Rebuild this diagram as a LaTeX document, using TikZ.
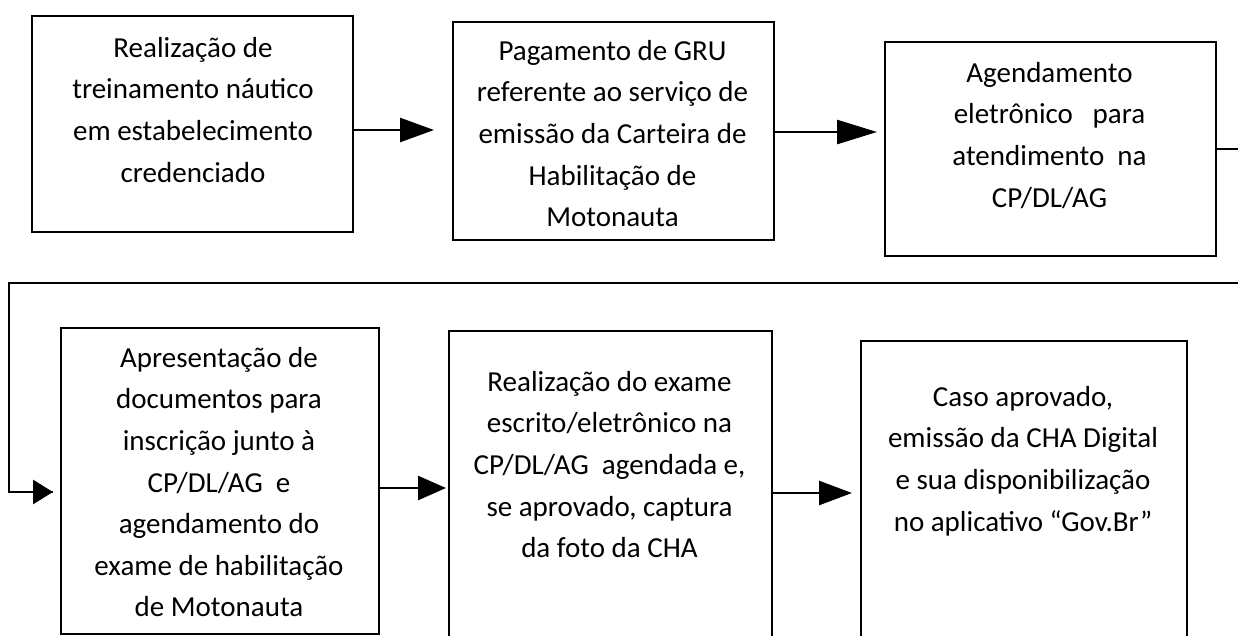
\documentclass[tikz,border=0pt]{standalone}
\usepackage{fontspec}
\setmainfont{Carlito}
\usetikzlibrary{arrows.meta,calc}
\begin{document}
\begin{tikzpicture}[x=1pt,y=-1pt,
  box/.style={draw, line width=1.8pt, inner sep=0pt, anchor=north west},
  txt/.style={align=center, inner sep=0pt, anchor=north, font=\fontsize{29}{41.6}\selectfont},
  conn/.style={line width=2.6pt},
  tip/.style={-{Triangle[length=#1,width=24pt]}}]
\useasboundingbox (0,0) rectangle (1238,635);
\fill[white] (0,0) rectangle (1238,635);
\clip (0,0) rectangle (1238,635);
% boxes
\node[box, minimum width=321pt, minimum height=216pt] (b1) at (31,15) {};
\node[box, minimum width=321pt, minimum height=218pt] (b2) at (452,21) {};
\node[box, minimum width=331pt, minimum height=214pt] (b3) at (884,41) {};
\node[box, minimum width=318pt, minimum height=306pt] (b4) at (60,327) {};
\node[box, minimum width=323pt, minimum height=330pt] (b5) at (448,330) {};
\node[box, minimum width=326pt, minimum height=320pt] (b6) at (860,340) {};
% texts
\node[txt] (t1) at (193,28) {\strut Realização de\\treinamento náutico\\em estabelecimento\\credenciado};
\node[txt] (t2) at (612.5,31) {\strut Pagamento de GRU\\referente ao serviço de\\emissão da Carteira de\\Habilitação de\\Motonauta};
\node[txt] (t3) at (1049.5,53) {\strut Agendamento\\eletrônico\ \ \ para\\atendimento\ \ na\\CP/DL/AG};
\node[txt] (t4) at (219,338) {\strut Apresentação de\\documentos para\\inscrição junto à\\CP/DL/AG\ \ e\\agendamento do\\exame de habilitação\\de Motonauta};
\node[txt] (t5) at (609.5,362) {\strut Realização do exame\\escrito/eletrônico na\\CP/DL/AG\ \ agendada e,\\se aprovado, captura\\da foto da CHA};
\node[txt] (t6) at (1023,377) {\strut Caso aprovado,\\emissão da CHA Digital\\e sua disponibilização\\no aplicativo “Gov.Br”};
% connector coordinates
\coordinate (a1) at (434,130);
\coordinate (a2) at (877,132);
\coordinate (c1) at (1250,149);
\coordinate (c2) at (1250,283);
\coordinate (c3) at (9,283);
\coordinate (c4) at (9,492);
\coordinate (a4) at (53,492);
\coordinate (a5) at (446,488);
\coordinate (a6) at (852,493);
% connectors
\draw[conn, tip=34pt] (b1.east |- a1) -- (a1);
\draw[conn, tip=40pt] (b2.east |- a2) -- (a2);
\draw[line width=2pt] (b3.east |- c1) -- (c1) -- (c2) -- (c3) -- (c4) -- (a4);
\draw[conn, tip=20pt] (c4) -- (a4);
\draw[conn, tip=28pt] (b4.east |- a5) -- (a5);
\draw[conn, tip=33pt] (b5.east |- a6) -- (a6);
\end{tikzpicture}
\end{document}
